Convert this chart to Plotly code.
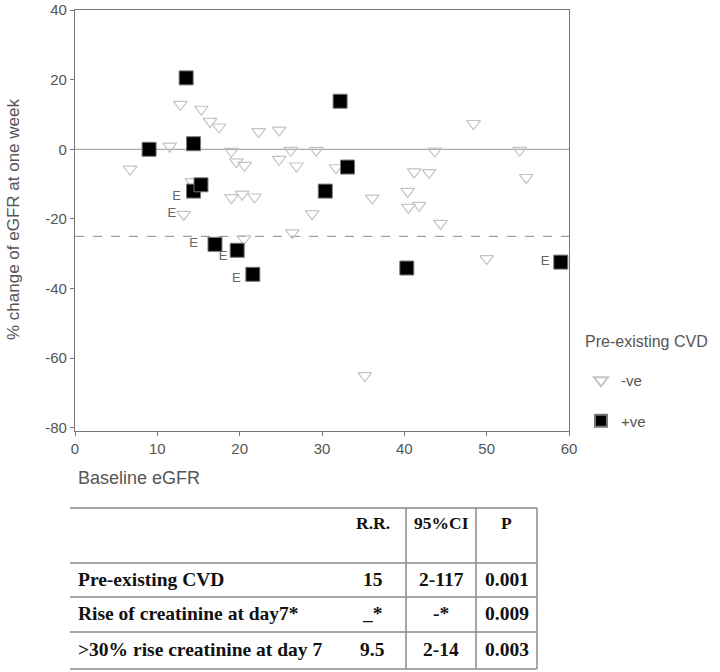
import plotly.graph_objects as go

# ---- data ----
neg_x = [6.7, 11.5, 12.8, 13.2, 14.2, 15.35, 16.4, 17.5, 19.0, 19.6, 20.6, 19.0, 20.3, 21.8, 20.5,
         22.3, 24.8, 24.8, 26.2, 26.9, 26.4, 28.8, 29.3, 31.7, 35.2, 36.1, 40.4, 40.5, 41.8, 41.2,
         43.0, 43.7, 44.4, 48.4, 50.0, 54.0, 54.8]
neg_y = [-5.7, 0.9, 12.9, -18.7, -9.3, 11.5, 8.0, 6.4, -0.6, -3.6, -4.6, -13.9, -12.9, -13.7, -25.7,
         5.1, 5.5, -2.9, -0.3, -4.8, -24.0, -18.5, -0.3, -5.3, -65.0, -14.0, -12.1, -16.7, -16.1, -6.5,
         -6.7, -0.5, -21.3, 7.4, -31.4, -0.3, -8.1]
pos_x = [9.0, 13.5, 14.4, 14.4, 15.3, 17.0, 19.7, 21.6, 32.2, 33.1, 30.4, 40.3, 59.0]
pos_y = [0.0, 20.5, 1.6, -12.0, -10.2, -27.3, -29.0, -35.9, 13.8, -5.1, -12.0, -34.1, -32.4]
e_x = [12.35, 11.75, 14.4, 18.0, 19.6, 57.1]
e_y = [-13.5, -18.5, -27.0, -31.0, -37.1, -32.4]
ref_solid = 0
ref_dashed = -25

x_ticks = [0, 10, 20, 30, 40, 50, 60]
x_tick_labels = ["0", "10", "20", "30", "40", "50", "60"]
y_ticks = [40, 20, 0, -20, -40, -60, -80]
y_tick_labels = ["40", "20", "0", "-20", "-40", "-60", "-80"]

table_header = ["", "R.R.", "95%CI", "P"]
table_rows = [
    ["Pre-existing CVD", "15", "2-117", "0.001"],
    ["Rise of creatinine at day7*", "_*", "-*", "0.009"],
    [">30% rise creatinine at day 7", "9.5", "2-14", "0.003"],
]

# ---- layout geometry (pixels) ----
W, H = 720, 672
ML, MR, MT, MB = 75, 151, 10, 241
PW, PH = W - ML - MR, H - MT - MB


def px(x):
    return (x - ML) / PW


def py(y):
    return (H - MB - y) / PH


fig = go.Figure()
fig.add_trace(go.Scatter(
    x=neg_x, y=neg_y, mode="markers", name="-ve", legendgroup="a",
    marker=dict(symbol="triangle-down-open", size=12, color="#c4c4c4", line=dict(width=1.2, color="#c4c4c4")),
))
fig.add_trace(go.Scatter(
    x=pos_x, y=pos_y, mode="markers", name="+ve", legendgroup="b",
    marker=dict(symbol="square", size=14, color="#000000", line=dict(width=1, color="#777777")),
))
fig.add_trace(go.Scatter(
    x=e_x, y=e_y, mode="text", text=["E"] * len(e_x), showlegend=False,
    textfont=dict(family="Liberation Sans, Arial", size=13, color="#666666"),
))

fig.add_hline(y=ref_solid, line=dict(color="#aaaaaa", width=1.2), layer="below")
fig.add_hline(y=ref_dashed, line=dict(color="#888888", width=1, dash="dash"), layer="below")

axis_common = dict(
    showgrid=False, zeroline=False, showline=True, linecolor="#777777", linewidth=1.2,
    mirror=True, ticks="outside", ticklen=4, tickcolor="#777777",
    tickfont=dict(family="Liberation Sans, Arial", size=15, color="#555555"),
)
fig.update_xaxes(range=[0, 60], tickvals=x_ticks, ticktext=x_tick_labels, **axis_common)
fig.update_yaxes(range=[-80.9, 40], tickvals=y_ticks, ticktext=y_tick_labels, **axis_common)

annotations = [
    dict(text="Baseline eGFR", x=px(76), y=py(478), xref="paper", yref="paper",
         xanchor="left", yanchor="middle", showarrow=False,
         font=dict(family="Liberation Sans, Arial", size=18, color="#555555")),
    dict(text="% change of eGFR at one week", x=px(13), y=py(220), xref="paper", yref="paper",
         xanchor="center", yanchor="middle", showarrow=False, textangle=-90,
         font=dict(family="Liberation Sans, Arial", size=17, color="#555555")),
    dict(text="Pre-existing CVD", x=px(583), y=py(341), xref="paper", yref="paper",
         xanchor="left", yanchor="middle", showarrow=False,
         font=dict(family="Liberation Sans, Arial", size=16, color="#555555")),
]

# ---- table drawn with shapes + text ----
col_edges = [70, 339, 406, 476, 537]
row_edges = [508, 563, 597, 632, 669]
shapes = []
for xe in col_edges:
    shapes.append(dict(type="line", xref="paper", yref="paper", x0=px(xe), x1=px(xe),
                       y0=py(row_edges[0]), y1=py(row_edges[-1]), line=dict(color="#8a8a8a", width=1.5)))
for ye in row_edges:
    shapes.append(dict(type="line", xref="paper", yref="paper", x0=px(col_edges[0]), x1=px(col_edges[-1]),
                       y0=py(ye), y1=py(ye), line=dict(color="#8a8a8a", width=1.5)))

hfont = dict(family="Liberation Serif, Times New Roman", size=17.5, color="#111111")
tfont = dict(family="Liberation Serif, Times New Roman", size=19.5, color="#111111")
for j, h in enumerate(table_header):
    if h:
        annotations.append(dict(text="<b>%s</b>" % h, x=px((col_edges[j] + col_edges[j + 1]) / 2),
                                y=py(523), xref="paper", yref="paper", xanchor="center",
                                yanchor="middle", showarrow=False, font=hfont))
for i, row in enumerate(table_rows):
    yc = (row_edges[i + 1] + row_edges[i + 2]) / 2 - 1
    for j, cell in enumerate(row):
        if j == 0:
            annotations.append(dict(text="<b>%s</b>" % cell, x=px(col_edges[0] + 6), y=py(yc),
                                    xref="paper", yref="paper", xanchor="left", yanchor="middle",
                                    showarrow=False, font=tfont))
        else:
            annotations.append(dict(text="<b>%s</b>" % cell, x=px((col_edges[j] + col_edges[j + 1]) / 2),
                                    y=py(yc), xref="paper", yref="paper", xanchor="center",
                                    yanchor="middle", showarrow=False, font=tfont))

fig.update_layout(
    width=W, height=H,
    margin=dict(l=ML, r=MR, t=MT, b=MB, autoexpand=False),
    plot_bgcolor="white", paper_bgcolor="white",
    showlegend=True,
    legend=dict(x=px(581), y=py(364), xanchor="left", yanchor="top",
                font=dict(family="Liberation Sans, Arial", size=15, color="#555555"),
                tracegroupgap=18, itemsizing="constant", bgcolor="rgba(0,0,0,0)"),
    annotations=annotations,
    shapes=shapes,
)

fig.write_html("out.html", config={"displayModeBar": False},
               post_script="document.body.style.margin='0';document.body.style.overflow='hidden';")
